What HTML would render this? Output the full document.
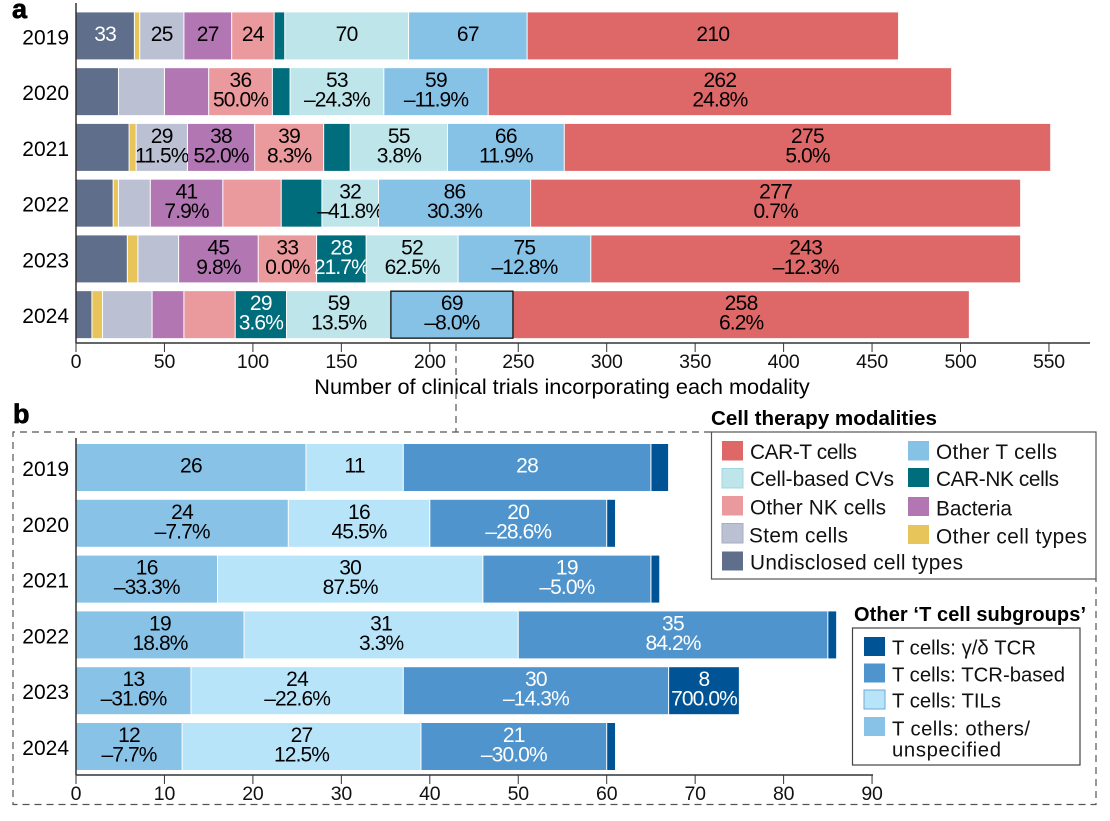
<!DOCTYPE html>
<html lang="en">
<head>
<meta charset="utf-8">
<title>Cell therapy clinical trials by modality</title>
<style>
html,body{margin:0;padding:0;background:#fff;}
svg{display:block;font-family:"Liberation Sans",sans-serif;}
.lg{font-size:20.8px;fill:#111;}
.lh{font-size:20.3px;fill:#111;}
.lt{font-weight:bold;fill:#000;}
</style>
</head>
<body>
<svg id="chart" width="1110" height="821" viewBox="0 0 1110 821" xmlns="http://www.w3.org/2000/svg">
  <rect width="1110" height="821" fill="#fff"/>
  <g id="panelA"></g>
  <g id="panelB"></g>

  <text x="12" y="18" font-size="27" font-weight="bold" stroke="#000" stroke-width=".7">a</text>
  <text x="13" y="423" font-size="27" font-weight="bold" stroke="#000" stroke-width=".7">b</text>

  <path d="M456 344V432" fill="none" stroke="#333" stroke-width="1" stroke-dasharray="7 5"/>
  <path d="M711 432H13V804.500H1096V579" fill="none" stroke="#555" stroke-width="1.200" stroke-dasharray="7 5"/>

  <text class="lt" font-size="20.6" textLength="226" x="711" y="425">Cell therapy modalities</text>
  <rect x="711.500" y="432" width="384.500" height="147" fill="#fff" stroke="#555" stroke-width="1.200"/>
  <g><rect x="722" y="441" width="21" height="19.500" fill="#DE6868"/><text class="lg" textLength="107" x="750" y="459">CAR-T cells</text></g>
  <g><rect x="722" y="468.500" width="21" height="19.500" fill="#BDE5EA" stroke="#9fd8dc"/><text class="lg" textLength="144" x="750" y="486">Cell-based CVs</text></g>
  <g><rect x="722" y="496" width="21" height="19.500" fill="#EA9A9C"/><text class="lg" textLength="136" x="750" y="514.500">Other NK cells</text></g>
  <g><rect x="722" y="523.500" width="21" height="19.500" fill="#BBC1D3" stroke="#a5acc4"/><text class="lg" textLength="99" x="749" y="542.500">Stem cells</text></g>
  <g><rect x="722" y="551.500" width="21" height="19" fill="#5F6E8A"/><text class="lg" textLength="213" x="750" y="569.500">Undisclosed cell types</text></g>
  <g><rect x="908" y="441" width="21" height="19.500" fill="#86C1E6"/><text class="lg" textLength="121" x="936" y="459">Other T cells</text></g>
  <g><rect x="908" y="468" width="21" height="19" fill="#006D7C"/><text class="lg" textLength="123" x="936" y="486">CAR-NK cells</text></g>
  <g><rect x="908" y="497" width="21" height="19" fill="#B277B2"/><text class="lg" textLength="76" x="936" y="515.500">Bacteria</text></g>
  <g><rect x="908" y="525" width="21" height="19" fill="#E8C55A"/><text class="lg" textLength="151" x="936" y="543.500">Other cell types</text></g>

  <text class="lt" font-size="20" textLength="232" x="854" y="621">Other ‘T cell subgroups’</text>
  <rect x="852.500" y="628" width="227.500" height="137" fill="#fff" stroke="#444" stroke-width="1.200"/>
  <g><rect x="864" y="637" width="21" height="19" fill="#005495"/><text class="lh" textLength="144" x="892" y="654.500">T cells: γ/δ TCR</text></g>
  <g><rect x="864" y="663.500" width="21" height="19" fill="#4F94CC"/><text class="lh" textLength="173" x="892" y="681.500">T cells: TCR-based</text></g>
  <g><rect x="864" y="690" width="21" height="19" fill="#B8E4FA" stroke="#6fa9d6"/><text class="lh" textLength="109" x="892" y="707.500">T cells: TILs</text></g>
  <g><rect x="864" y="717" width="21" height="19" fill="#88C2E7"/><text class="lh" textLength="138" x="892" y="735.500">T cells: others/</text><text class="lh" textLength="109" x="892" y="756.500">unspecified</text></g>
</svg>

<script>
const years = ['2019', '2020', '2021', '2022', '2023', '2024'];

// Panel a: clinical trial counts per modality, one value per year
const undisclosed = [33, 24, 30, 21, 29, 9];
const otherCellTypes = [3, 0, 4, 3, 6, 6];
const stemCells = [25, 26, 29, 18, 23, 28];
const bacteria = [27, 25, 38, 41, 45, 18];
const otherNk = [24, 36, 39, 33, 33, 29];
const carNk = [6, 10, 15, 23, 28, 29];
const cellBasedCvs = [70, 53, 55, 32, 52, 59];
const otherT = [67, 59, 66, 86, 75, 69];
const carT = [210, 262, 275, 277, 243, 258];

// Printed year-on-year change: null = no label, '' = count only
const undisclosedPct = ['', null, null, null, null, null];
const otherCellTypesPct = [null, null, null, null, null, null];
const stemCellsPct = ['', null, '11.5%', null, null, null];
const bacteriaPct = ['', null, '52.0%', '7.9%', '9.8%', null];
const otherNkPct = ['', '50.0%', '8.3%', null, '0.0%', null];
const carNkPct = [null, null, null, null, '21.7%', '3.6%'];
const cellBasedCvsPct = ['', '–24.3%', '3.8%', '–41.8%', '62.5%', '13.5%'];
const otherTPct = ['', '–11.9%', '11.9%', '30.3%', '–12.8%', '–8.0%'];
const carTPct = ['', '24.8%', '5.0%', '0.7%', '–12.3%', '6.2%'];

// Panel b: Other T cell subgroups
const tOthers = [26, 24, 16, 19, 13, 12];
const tTils = [11, 16, 30, 31, 24, 27];
const tTcr = [28, 20, 19, 35, 30, 21];
const tGammaDelta = [2, 1, 1, 1, 8, 1];
const tOthersPct = ['', '–7.7%', '–33.3%', '18.8%', '–31.6%', '–7.7%'];
const tTilsPct = ['', '45.5%', '87.5%', '3.3%', '–22.6%', '12.5%'];
const tTcrPct = ['', '–28.6%', '–5.0%', '84.2%', '–14.3%', '–30.0%'];
const tGammaDeltaPct = [null, null, null, null, '700.0%', null];

const ticksA = [0, 50, 100, 150, 200, 250, 300, 350, 400, 450, 500, 550];
const ticksB = [0, 10, 20, 30, 40, 50, 60, 70, 80, 90];

const seriesA = [
  {key: 'undisclosed', values: undisclosed, pct: undisclosedPct, color: '#5F6E8A', text: '#fff'},
  {key: 'other-cell-types', values: otherCellTypes, pct: otherCellTypesPct, color: '#E8C55A', text: '#000'},
  {key: 'stem-cells', values: stemCells, pct: stemCellsPct, color: '#BBC1D3', text: '#000'},
  {key: 'bacteria', values: bacteria, pct: bacteriaPct, color: '#B277B2', text: '#000'},
  {key: 'other-nk', values: otherNk, pct: otherNkPct, color: '#EA9A9C', text: '#000'},
  {key: 'car-nk', values: carNk, pct: carNkPct, color: '#006D7C', text: '#fff'},
  {key: 'cell-based-cvs', values: cellBasedCvs, pct: cellBasedCvsPct, color: '#BDE5EA', text: '#000'},
  {key: 'other-t', values: otherT, pct: otherTPct, color: '#86C1E6', text: '#000'},
  {key: 'car-t', values: carT, pct: carTPct, color: '#DE6868', text: '#000'}
];
const seriesB = [
  {key: 'others', values: tOthers, pct: tOthersPct, color: '#88C2E7', text: '#000'},
  {key: 'tils', values: tTils, pct: tTilsPct, color: '#B8E4FA', text: '#000'},
  {key: 'tcr-based', values: tTcr, pct: tTcrPct, color: '#4F94CC', text: '#fff'},
  {key: 'gamma-delta', values: tGammaDelta, pct: tGammaDeltaPct, color: '#005495', text: '#fff'}
];

const NS = 'http://www.w3.org/2000/svg';
const X0 = 76;

function xA(v) { return X0 + v * 1.769; }
function xB(v) { return X0 + v * 8.845; }
function yA(i) { return 12.4 + i * 55.75; }
function yB(i) { return 444 + i * 55.8; }

function addText(parent, name, str, x, y, size, fill, anchor, spacing) {
  const el = document.createElementNS(NS, 'text');
  
  
  el.setAttribute('x', x);
  el.setAttribute('y', y);
  el.setAttribute('font-size', size);
  el.setAttribute('fill', fill);
  el.setAttribute('text-anchor', anchor);
  el.setAttribute('letter-spacing', spacing);
  el.textContent = str;
  parent.appendChild(el);
  return el;
}

function addLine(parent, name, x1, y1, x2, y2, width) {
  const el = document.createElementNS(NS, 'line');
  
  
  el.setAttribute('x1', x1);
  el.setAttribute('y1', y1);
  el.setAttribute('x2', x2);
  el.setAttribute('y2', y2);
  el.setAttribute('stroke', '#333');
  el.setAttribute('stroke-width', width);
  parent.appendChild(el);
}

function drawBars(parent, prefix, series, xFn, yFn, barH) {
  years.forEach(function (year, i) {
    let cum = 0;
    series.forEach(function (s) {
      const v = s.values[i];
      const x1 = xFn(cum);
      const x2 = xFn(cum + v);
      cum += v;
      if (v <= 0) return;
      const top = yFn(i);
      const r = document.createElementNS(NS, 'rect');
      
      
      r.setAttribute('x', x1 + 0.5);
      r.setAttribute('y', top);
      r.setAttribute('width', Math.max(x2 - x1 - 1, 0.5));
      r.setAttribute('height', barH);
      r.setAttribute('fill', s.color);
      parent.appendChild(r);
      const p = s.pct[i];
      if (p === null) return;
      const cx = (x1 + x2) / 2;
      if (p === '') {
        addText(parent, prefix + '-count-' + s.key + '-' + year, String(v), cx, top + 28.5, 21, s.text, 'middle', -0.7);
      } else {
        addText(parent, prefix + '-count-' + s.key + '-' + year, String(v), cx, top + 19, 21, s.text, 'middle', -0.7);
        addText(parent, prefix + '-change-' + s.key + '-' + year, p, cx, top + 38.5, 21, s.text, 'middle', -0.9);
      }
    });
  });
}

function drawAxes(parent, prefix, ticks, xFn, yFn, axisY, topY, axisEnd, barH) {
  addLine(parent, prefix + '-y-axis', X0, topY, X0, axisY, 1.5);
  addLine(parent, prefix + '-x-axis', X0, axisY, axisEnd, axisY, 1.5);
  ticks.forEach(function (t) {
    addLine(parent, prefix + '-x-tick-' + t, xFn(t), axisY, xFn(t), axisY + 9, 1);
    addText(parent, prefix + '-x-tick-label-' + t, String(t), xFn(t), axisY + 25, 19.5, '#111', 'middle', -0.2);
  });
  years.forEach(function (year, i) {
    addText(parent, prefix + '-y-label-' + year, year, 69, yFn(i) + barH / 2 + 8.5, 21, '#000', 'end', 0);
  });
}

const panelA = document.getElementById('panelA');
const panelB = document.getElementById('panelB');

drawBars(panelA, 'a', seriesA, xA, yA, 47);
drawAxes(panelA, 'a', ticksA, xA, yA, 343, 3, 1090, 47);
addText(panelA, 'a-x-axis-title', 'Number of clinical trials incorporating each modality', 562, 394, 21.7, '#000', 'middle', 0);

// Highlight on the 2024 Other T cells segment, positioned from the data
(function () {
  const idx = years.indexOf('2024');
  let before = 0;
  for (let k = 0; k < seriesA.length - 2; k++) before += seriesA[k].values[idx];
  const box = document.createElementNS(NS, 'rect');
  
  
  box.setAttribute('x', xA(before));
  box.setAttribute('y', yA(idx));
  box.setAttribute('width', xA(before + otherT[idx]) - xA(before));
  box.setAttribute('height', 47);
  box.setAttribute('fill', 'none');
  box.setAttribute('stroke', '#111');
  box.setAttribute('stroke-width', '1.3');
  panelA.appendChild(box);
})();

drawBars(panelB, 'b', seriesB, xB, yB, 47);
drawAxes(panelB, 'b', ticksB, xB, yB, 775, 438, 873, 47);
</script>
</body>
</html>
